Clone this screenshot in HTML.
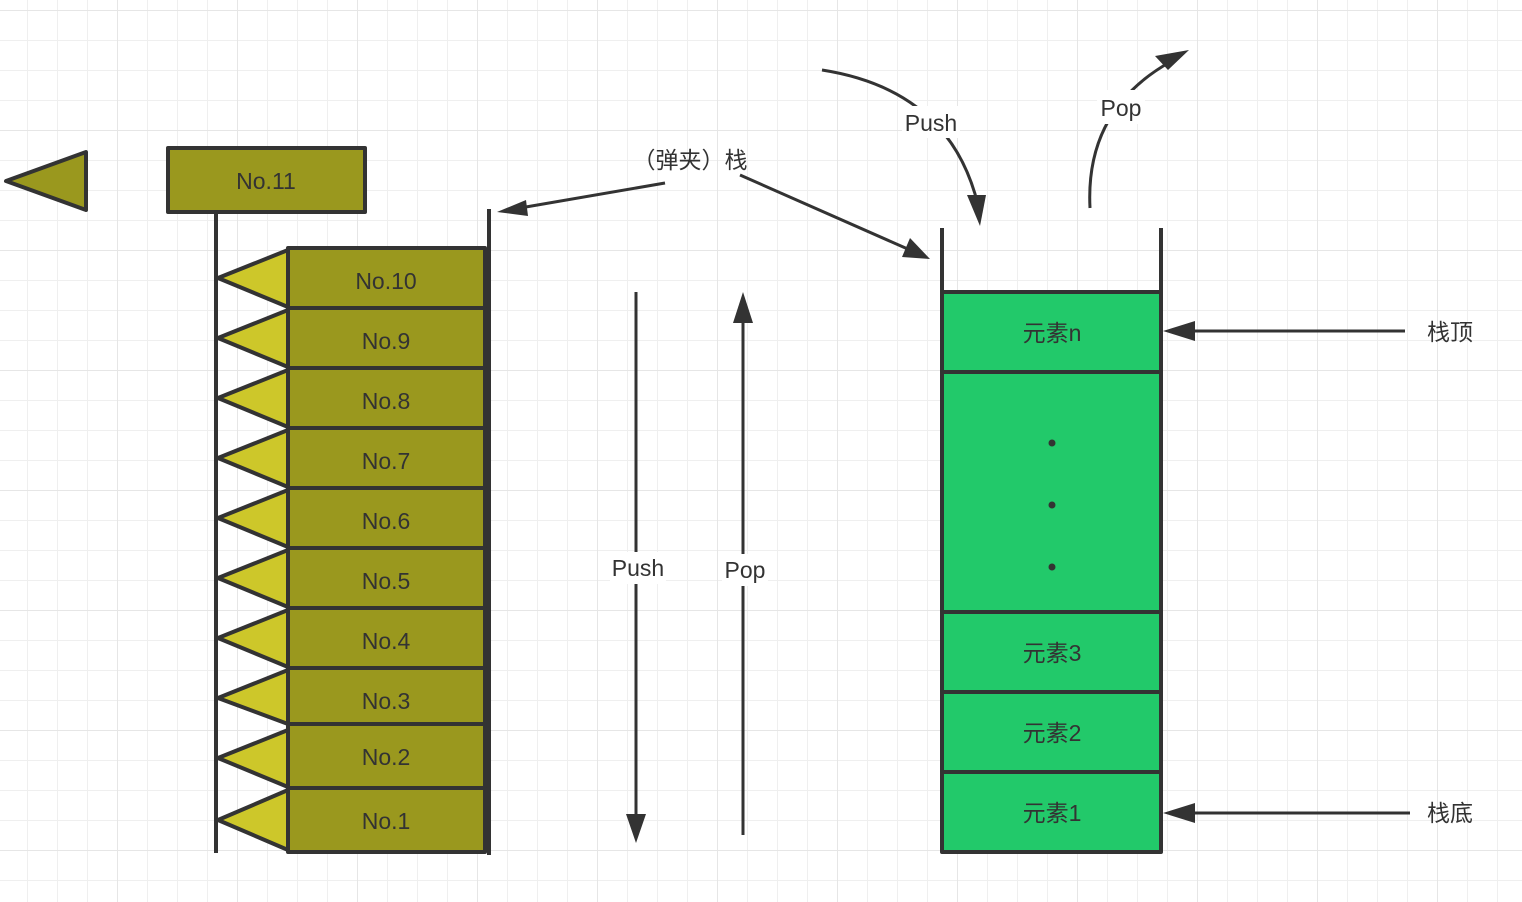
<!DOCTYPE html>
<html><head><meta charset="utf-8"><style>
html,body{margin:0;padding:0;background:#fff}
svg{display:block}
text{font-family:"Liberation Sans","Noto Sans CJK SC",sans-serif;fill:#333;font-size:23px}
</style></head><body>
<svg width="1522" height="902" xmlns="http://www.w3.org/2000/svg">
<defs>
<pattern id="g" x="-3" y="10" width="30" height="30" patternUnits="userSpaceOnUse">
<path d="M0 0H30M0 0V30" stroke="#efefef" stroke-width="2" fill="none"/>
</pattern>
<pattern id="G" x="117" y="10" width="120" height="120" patternUnits="userSpaceOnUse">
<path d="M0 0H120M0 0V120" stroke="#e6e6e6" stroke-width="2" fill="none"/>
</pattern>
<marker id="a" markerWidth="10" markerHeight="10" refX="9" refY="5" orient="auto" markerUnits="userSpaceOnUse" viewBox="0 0 10 10">
</marker>
</defs>
<rect width="1522" height="902" fill="url(#g)"/>
<rect width="1522" height="902" fill="url(#G)"/>
<g stroke="#333" stroke-width="4" stroke-linejoin="round">
<polygon points="6,181 86,152 86,210" fill="#9a981e"/>
<rect x="168" y="148" width="197" height="64" fill="#9a981e"/>
<line x1="216" y1="212" x2="216" y2="853"/>
<line x1="489" y1="209" x2="489" y2="855"/>
<g fill="#9a981e">
<rect x="288" y="248" width="197" height="60"/>
<rect x="288" y="308" width="197" height="60"/>
<rect x="288" y="368" width="197" height="60"/>
<rect x="288" y="428" width="197" height="60"/>
<rect x="288" y="488" width="197" height="60"/>
<rect x="288" y="548" width="197" height="60"/>
<rect x="288" y="608" width="197" height="60"/>
<rect x="288" y="668" width="197" height="56"/>
<rect x="288" y="724" width="197" height="64"/>
<rect x="288" y="788" width="197" height="64"/>
</g>
<g fill="#cdc72a">
<polygon points="218,278 288,250 288,307"/>
<polygon points="218,338 288,310 288,367"/>
<polygon points="218,398 288,370 288,427"/>
<polygon points="218,458 288,430 288,487"/>
<polygon points="218,518 288,490 288,547"/>
<polygon points="218,578 288,550 288,607"/>
<polygon points="218,638 288,610 288,667"/>
<polygon points="218,698 288,670 288,724"/>
<polygon points="218,758 288,730 288,787"/>
<polygon points="218,820 288,790 288,850"/>
</g>
<g fill="#22c96a">
<rect x="942" y="292" width="219" height="80"/>
<rect x="942" y="372" width="219" height="240"/>
<rect x="942" y="612" width="219" height="80"/>
<rect x="942" y="692" width="219" height="80"/>
<rect x="942" y="772" width="219" height="80"/>
</g>
<line x1="942" y1="228" x2="942" y2="292"/>
<line x1="1161" y1="228" x2="1161" y2="292"/>
</g>
<g stroke="#333" stroke-width="3" fill="none">
<line x1="665" y1="183" x2="520" y2="208"/>
<line x1="740" y1="175" x2="910" y2="250"/>
<line x1="636" y1="292" x2="636" y2="818"/>
<line x1="743" y1="835" x2="743" y2="318"/>
<line x1="1405" y1="331" x2="1190" y2="331"/>
<line x1="1410" y1="813" x2="1190" y2="813"/>
<path d="M822 70 Q950 90 978 205"/>
<path d="M1090 208 Q1085 110 1170 62"/>
</g>
<g fill="#333">
<polygon points="497,212 526,200 528,216"/>
<polygon points="930,259 902,257 910,238"/>
<polygon points="636,843 626,814 646,814"/>
<polygon points="743,292 733,323 753,323"/>
<polygon points="1163,331 1195,321 1195,341"/>
<polygon points="1163,813 1195,803 1195,823"/>
<polygon points="980,226 967,195 986,195"/>
<polygon points="1189,50 1155,56 1168,70"/>
<circle cx="1052" cy="443" r="3.5"/>
<circle cx="1052" cy="505" r="3.5"/>
<circle cx="1052" cy="567" r="3.5"/>
</g>
<rect x="902" y="106" width="58" height="32" fill="#fff"/>
<rect x="1097" y="90" width="48" height="34" fill="#fff"/>
<rect x="610" y="552" width="56" height="32" fill="#fff"/>
<rect x="722" y="554" width="46" height="32" fill="#fff"/>
<g text-anchor="middle">
<text x="266" y="189">No.11</text>
<text x="386" y="289">No.10</text>
<text x="386" y="349">No.9</text>
<text x="386" y="409">No.8</text>
<text x="386" y="469">No.7</text>
<text x="386" y="529">No.6</text>
<text x="386" y="589">No.5</text>
<text x="386" y="649">No.4</text>
<text x="386" y="709">No.3</text>
<text x="386" y="765">No.2</text>
<text x="386" y="829">No.1</text>
<text x="690" y="168">（弹夹）栈</text>
<text x="638" y="576">Push</text>
<text x="745" y="578">Pop</text>
<text x="931" y="131">Push</text>
<text x="1121" y="116">Pop</text>
<text x="1052" y="341">元素n</text>
<text x="1052" y="661">元素3</text>
<text x="1052" y="741">元素2</text>
<text x="1052" y="821">元素1</text>
<text x="1450" y="340">栈顶</text>
<text x="1450" y="821">栈底</text>
</g>
</svg>
</body></html>
